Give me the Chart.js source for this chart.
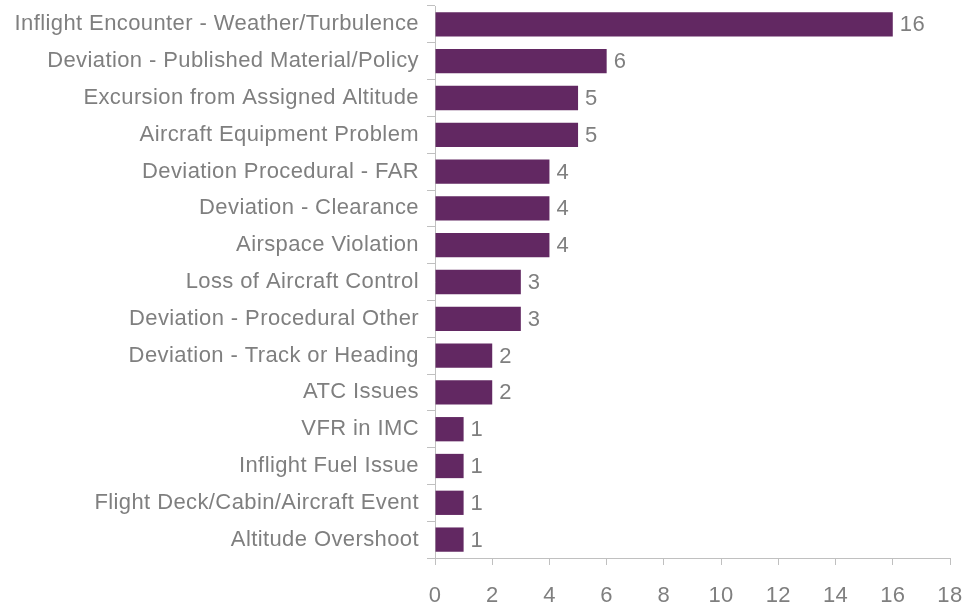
<!DOCTYPE html>
<html>
<head>
<meta charset="utf-8">
<script src="https://cdn.jsdelivr.net/npm/chart.js@4/dist/chart.umd.min.js"></script>
<style>
html,body{margin:0;padding:0;background:#fff;}
#wrap{width:967px;height:607px;}
</style>
</head>
<body>
<div id="wrap"><canvas id="c" width="967" height="607"></canvas></div>
<script>
const categories = [
  "Inflight Encounter - Weather/Turbulence",
  "Deviation - Published Material/Policy",
  "Excursion from Assigned Altitude",
  "Aircraft Equipment Problem",
  "Deviation Procedural - FAR",
  "Deviation - Clearance",
  "Airspace Violation",
  "Loss of Aircraft Control",
  "Deviation - Procedural Other",
  "Deviation - Track or Heading",
  "ATC Issues",
  "VFR in IMC",
  "Inflight Fuel Issue",
  "Flight Deck/Cabin/Aircraft Event",
  "Altitude Overshoot"
];
const counts = [16, 6, 5, 5, 4, 4, 4, 3, 3, 2, 2, 1, 1, 1, 1];
const xMin = 0, xMax = 18, xStep = 2;

const textColor = '#7f7f7f';
const axisColor = '#c0c0c0';
const fontFamily = '"Liberation Sans", Arial, sans-serif';
const spacing = '0.4px';

const spacingPlugin = {
  id: 'spacing',
  beforeInit(chart) { chart.ctx.letterSpacing = spacing; },
  beforeLayout(chart) { chart.ctx.letterSpacing = spacing; },
  beforeDraw(chart) { chart.ctx.letterSpacing = spacing; }
};

const valueLabels = {
  id: 'valueLabels',
  afterDatasetsDraw(chart) {
    const ctx = chart.ctx;
    ctx.save();
    ctx.letterSpacing = spacing;
    ctx.font = '22px ' + fontFamily;
    ctx.fillStyle = textColor;
    ctx.textAlign = 'left';
    ctx.textBaseline = 'middle';
    chart.getDatasetMeta(0).data.forEach((bar, i) => {
      ctx.fillText(String(counts[i]), bar.x + 7, bar.y + 1);
    });
    ctx.restore();
  }
};

new Chart(document.getElementById('c'), {
  type: 'bar',
  data: {
    labels: categories,
    datasets: [{
      data: counts,
      backgroundColor: '#622862',
      borderWidth: 0,
      barPercentage: 0.66,
      categoryPercentage: 1.0
    }]
  },
  options: {
    indexAxis: 'y',
    responsive: false,
    animation: false,
    layout: { padding: { left: 0, right: 17, top: 6, bottom: 0 } },
    plugins: { legend: { display: false }, tooltip: { enabled: false } },
    scales: {
      x: {
        min: xMin, max: xMax,
        ticks: { stepSize: xStep, color: textColor, font: { size: 22, family: fontFamily }, padding: 18 },
        grid: { drawOnChartArea: false, drawTicks: true, tickLength: 7, color: axisColor },
        border: { color: axisColor },
        afterFit(scale) { scale.height = 49; scale.paddingLeft = 0; scale.paddingRight = 0; }
      },
      y: {
        ticks: { color: textColor, font: { size: 22, family: fontFamily }, padding: 8 },
        grid: { drawOnChartArea: false, drawTicks: true, tickLength: 8, color: axisColor, offset: true },
        border: { color: axisColor },
        afterFit(scale) { scale.width = 435; scale.paddingTop = 0; scale.paddingBottom = 0; }
      }
    }
  },
  plugins: [spacingPlugin, valueLabels]
});
</script>
</body>
</html>
